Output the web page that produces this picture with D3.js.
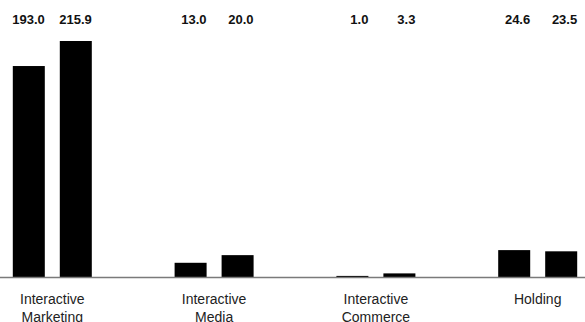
<!DOCTYPE html>
<html>
<head>
<meta charset="utf-8">
<script src="https://cdn.jsdelivr.net/npm/d3@7"></script>
<style>
  html, body { margin: 0; padding: 0; background: #fff; }
  svg { display: block; }
  text { font-family: "Liberation Sans", Arial, Helvetica, sans-serif; fill: #111; }
</style>
</head>
<body>
<svg id="chart" width="585" height="322"></svg>
<script>
const categories = ["Interactive\nMarketing", "Interactive\nMedia", "Interactive\nCommerce", "Holding"];
const series = ["prior", "current"];
const priorValues = [193.0, 13.0, 1.0, 24.6];
const currentValues = [215.9, 20.0, 3.3, 23.5];
const valueLabels = [["193.0", "215.9"], ["13.0", "20.0"], ["1.0", "3.3"], ["24.6", "23.5"]];

const W = 585, H = 322;
const baseY = 277, topY = 41;
const svg = d3.select("#chart");

const x0 = d3.scalePoint().domain(categories).range([52.3, 537.7]).padding(0);
const x1 = d3.scaleBand().domain(series).range([-39.5, 39.5]).paddingInner(0.319).paddingOuter(0);
const y = d3.scaleLinear().domain([0, d3.max(priorValues.concat(currentValues))]).range([baseY, topY]);

const data = categories.map((c, i) => ({
  cat: c,
  vals: [
    { s: "prior", v: priorValues[i], label: valueLabels[i][0] },
    { s: "current", v: currentValues[i], label: valueLabels[i][1] }
  ]
}));

const g = svg.selectAll("g.grp").data(data).join("g")
  .attr("class", "grp")
  .attr("transform", d => `translate(${x0(d.cat)},0)`);

g.selectAll("rect").data(d => d.vals).join("rect")
  .attr("x", d => x1(d.s))
  .attr("width", x1.bandwidth())
  .attr("y", d => y(d.v))
  .attr("height", d => baseY - y(d.v))
  .attr("fill", "#000");

g.selectAll("text.val").data(d => d.vals).join("text")
  .attr("class", "val")
  .attr("x", d => x1(d.s) + x1.bandwidth())
  .attr("y", 24)
  .attr("text-anchor", "end")
  .style("font-size", "13px")
  .style("font-weight", "bold")
  .text(d => d.label);

// baseline
svg.append("line")
  .attr("x1", 0).attr("x2", W)
  .attr("y1", baseY + 0.5).attr("y2", baseY + 0.5)
  .attr("stroke", "#7a7a7a")
  .attr("stroke-width", 1.5);

// category labels
const cl = g.append("text")
  .attr("class", "cat")
  .attr("text-anchor", "middle")
  .attr("y", 304)
  .style("font-size", "14px")
  .style("fill", "#222");
cl.selectAll("tspan").data(d => d.cat.split("\n")).join("tspan")
  .attr("x", 0)
  .attr("dy", (d, i) => i === 0 ? 0 : 17.5)
  .text(d => d);
</script>
</body>
</html>
